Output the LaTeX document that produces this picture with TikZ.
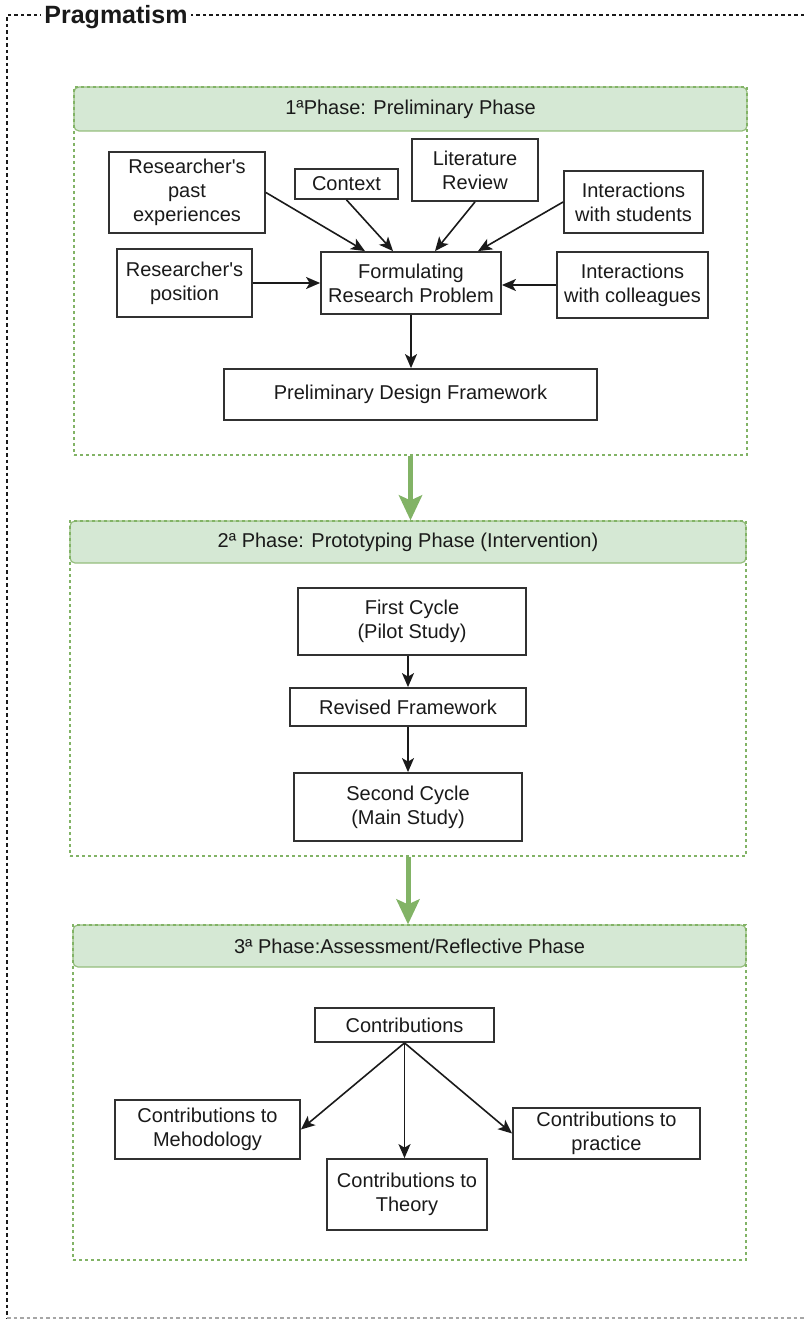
\documentclass[tikz,border=0pt]{standalone}
\usepackage{fontspec}
\setmainfont{Liberation Sans}[Ligatures=TeXOff]
\usetikzlibrary{arrows.meta}
\definecolor{hdrfill}{HTML}{D5E8D4}
\definecolor{hdrline}{HTML}{82B366}
\definecolor{ink}{HTML}{1A1A1A}
\begin{document}
\begin{tikzpicture}[x=1pt,y=-1pt,
  blk/.style={draw=ink!90, line width=1.8pt, fill=white, align=center, inner sep=0pt,
    text=ink, font=\fontsize{20}{24}\selectfont},
  hdr/.style={draw=hdrline!85, fill=hdrfill, rounded corners=5pt, line width=1.2pt,
    inner sep=0pt, text=ink, font=\fontsize{20}{24}\selectfont},
  lane/.style={draw=hdrline, dash pattern=on 3pt off 3pt, line width=1.2pt, inner sep=0pt},
  arr/.style={draw=ink, line width=1.6pt, -{Stealth[length=14pt,width=12pt,inset=3.5pt]}},
  garr/.style={draw=hdrline, line width=5pt, -{Stealth[length=25pt,width=23pt,inset=5pt]}},
  frame/.style={draw=ink, line width=1.5pt, dash pattern=on 3.5pt off 3pt},
]
\useasboundingbox (0,0) rectangle (803,1324);

% outer frame
\draw[frame] (830,15) -- (7,15) -- (7,1318);
\draw[frame, draw=black!35] (7,1318) -- (830,1318);
\node[fill=white, inner sep=3pt, text=ink, font=\fontsize{25}{28}\selectfont\bfseries]
  (prag) at (116,17) {Pragmatism};

% phase headers
\node[hdr, minimum width=673, minimum height=44] (hd1) at (410.5,109) {1ªPhase: Preliminary Phase};
\node[hdr, minimum width=676, minimum height=42] (hd2) at (408,542) {2ª Phase: Prototyping Phase (Intervention)};
\node[hdr, minimum width=673, minimum height=42] (hd3) at (409.5,946) {3ª Phase:Assessment/Reflective Phase};

% phase containers
\node[lane, minimum width=673, minimum height=368] (ph1) at (410.5,271) {};
\node[lane, minimum width=676, minimum height=335] (ph2) at (408,688.5) {};
\node[lane, minimum width=673, minimum height=335] (ph3) at (409.5,1092.5) {};

% phase 1
\node[blk, minimum width=156, minimum height=81] (past) at (187,192.5) {Researcher's\\past\\experiences};
\node[blk, minimum width=103, minimum height=30] (ctx) at (346.5,184) {Context};
\node[blk, minimum width=126, minimum height=62] (lit) at (475,170) {Literature\\Review};
\node[blk, minimum width=139, minimum height=62] (stu) at (633.5,202) {Interactions\\with students};
\node[blk, minimum width=135, minimum height=68] (pos) at (184.5,283) {Researcher's\\position};
\node[blk, minimum width=180, minimum height=62] (form) at (411,283) {Formulating\\Research Problem};
\node[blk, minimum width=151, minimum height=66] (col) at (632.5,285) {Interactions\\with colleagues};
\node[blk, minimum width=373, minimum height=51] (pdf) at (410.5,394.5) {Preliminary Design Framework};

\draw[arr] (past.east) -- ([xshift=-46pt]form.north);
\draw[arr] (ctx.south) -- ([xshift=-18pt]form.north);
\draw[arr] (lit.south) -- ([xshift=24pt]form.north);
\draw[arr] (stu.west) -- ([xshift=67pt]form.north);
\draw[arr] (pos.east) -- (form.west);
\draw[arr] (col.west) -- (col.west -| form.east);
\draw[arr] (form.south) -- (form.south |- pdf.north);

% phase 2
\node[blk, minimum width=228, minimum height=67] (first) at (412,621.5) {First Cycle\\(Pilot Study)};
\node[blk, minimum width=236, minimum height=38] (rev) at (408,707) {Revised Framework};
\node[blk, minimum width=228, minimum height=68] (second) at (408,807) {Second Cycle\\(Main Study)};

\draw[arr] (rev.north |- first.south) -- (rev.north);
\draw[arr] (rev.south) -- (second.north);

% phase 3
\node[blk, minimum width=179, minimum height=34] (contr) at (404.5,1025) {Contributions};
\node[blk, minimum width=185, minimum height=59] (meth) at (207.5,1129.5) {Contributions to\\Mehodology};
\node[blk, minimum width=160, minimum height=71] (theo) at (407,1194.5) {Contributions to\\Theory};
\node[blk, minimum width=187, minimum height=51] (prac) at (606.5,1133.5) {Contributions to\\practice};

\draw[arr] (contr.south) -- (meth.east);
\draw[arr] (contr.south) -- (contr.south |- theo.north);
\draw[arr] (contr.south) -- (prac.west);

% transitions between phases
\draw[garr] (ph1.south) -- (ph1.south |- hd2.north);
\draw[garr] (ph2.south) -- (ph2.south |- hd3.north);
\end{tikzpicture}
\end{document}
